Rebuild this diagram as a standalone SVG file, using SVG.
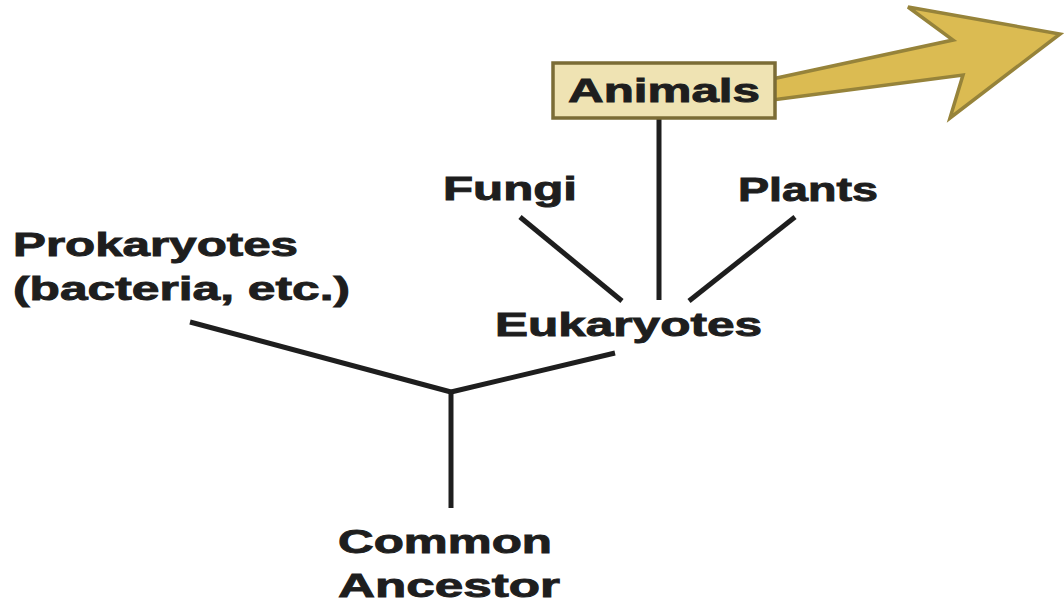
<svg xmlns="http://www.w3.org/2000/svg" width="1064" height="603" viewBox="0 0 1064 603">
<style>
.lbl{font-family:"Liberation Sans",Arial,sans-serif;font-weight:bold;font-size:33px;fill:#1e1e1e;stroke:#1e1e1e;stroke-width:0.9}
.br{stroke:#1e1e1e;stroke-width:5;stroke-linecap:butt;fill:none}
</style>
<rect width="1064" height="603" fill="#ffffff"/>
<g id="connectors">
<line class="br" x1="659" y1="118" x2="659" y2="300"/>
<line class="br" x1="520" y1="217" x2="622" y2="301"/>
<line class="br" x1="795" y1="217" x2="689" y2="301"/>
<line class="br" x1="615" y1="353" x2="451" y2="392"/>
<line class="br" x1="190" y1="322" x2="451" y2="392"/>
<line class="br" x1="451" y1="390" x2="451" y2="508"/>
<polygon id="arrow" points="772,79 953,40 908,7 1060,34 950,118 963,75 772,100" fill="#dbbb52" stroke="#96833a" stroke-width="3.5" stroke-linejoin="miter"/>
</g>
<g id="animals">
<rect x="553" y="63" width="222" height="55" fill="#efe3b3" stroke="#7b6c36" stroke-width="3.5"/>
<text class="lbl" x="568" y="102" textLength="192" lengthAdjust="spacingAndGlyphs">Animals</text>
</g>
<g id="fungi">
<text class="lbl" x="443" y="200" textLength="134" lengthAdjust="spacingAndGlyphs">Fungi</text>
</g>
<g id="plants">
<text class="lbl" x="738" y="201" textLength="140" lengthAdjust="spacingAndGlyphs">Plants</text>
</g>
<g id="eukaryotes">
<text class="lbl" x="495" y="336" textLength="267" lengthAdjust="spacingAndGlyphs">Eukaryotes</text>
</g>
<g id="prokaryotes">
<text class="lbl" x="13" y="256" textLength="285" lengthAdjust="spacingAndGlyphs">Prokaryotes</text>
<text class="lbl" x="13" y="300" textLength="337" lengthAdjust="spacingAndGlyphs">(bacteria, etc.)</text>
</g>
<g id="ancestor">
<text class="lbl" x="338" y="553" textLength="214" lengthAdjust="spacingAndGlyphs">Common</text>
<text class="lbl" x="338" y="597" textLength="222" lengthAdjust="spacingAndGlyphs">Ancestor</text>
</g>
</svg>
